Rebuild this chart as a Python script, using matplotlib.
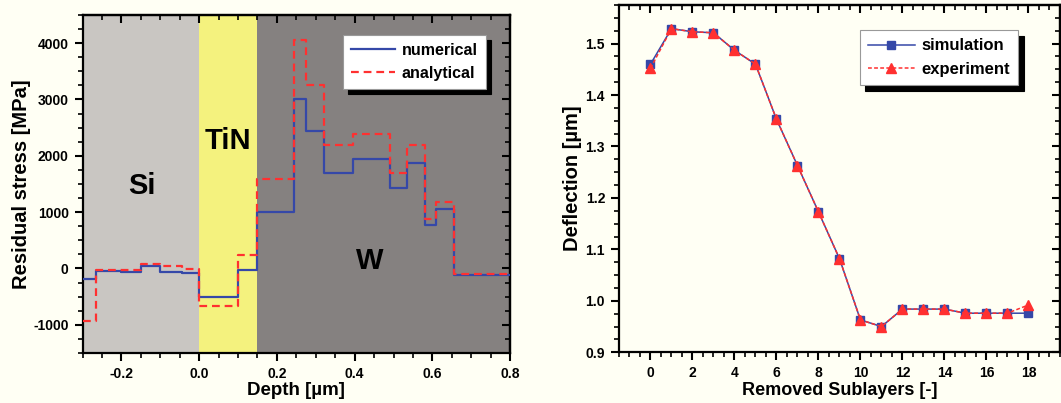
import matplotlib
matplotlib.use("Agg")
import matplotlib.pyplot as plt
from matplotlib.ticker import MultipleLocator, FormatStrFormatter

# left panel: residual stress step profiles
depth_edges = [-0.3, -0.265, -0.2, -0.15, -0.1, -0.045, 0.0, 0.1, 0.15, 0.245,
               0.275, 0.32, 0.395, 0.49, 0.535, 0.58, 0.61, 0.655, 0.8]
numerical = [-190, -46, -64, 36, -64, -80, -510, -30, 1000, 3000,
             2440, 1690, 1935, 1420, 1865, 780, 1060, -110]
analytical = [-930, -30, -30, 80, 40, -10, -660, 245, 1590, 4060,
              3250, 2200, 2390, 1700, 2190, 870, 1180, -90]
layer_names = ["Si", "TiN", "W"]
layer_bounds = [(-0.3, 0.0), (0.0, 0.15), (0.15, 0.8)]
layer_label_pos = [(-0.148, 1470), (0.074, 2270), (0.439, 140)]

# right panel: deflection vs removed sublayers
sublayers = list(range(19))
simulation = [1.460, 1.529, 1.523, 1.521, 1.487, 1.460, 1.353, 1.263, 1.173, 1.082,
              0.963, 0.950, 0.984, 0.984, 0.984, 0.976, 0.976, 0.976, 0.976]
experiment = [1.452, 1.529, 1.523, 1.521, 1.487, 1.460, 1.353, 1.263, 1.173, 1.082,
              0.963, 0.950, 0.984, 0.984, 0.984, 0.976, 0.976, 0.976, 0.992]

BG = "#fffff4"
BLUE = "#3548a8"
RED = "#ff3030"
layer_colors = ["#c9c6c2", "#f4f27e", "#858180"]

plt.rcParams["font.family"] = ["Liberation Sans", "DejaVu Sans"]
plt.rcParams["font.weight"] = "bold"
plt.rcParams["axes.labelweight"] = "bold"
plt.rcParams["axes.unicode_minus"] = False

fig = plt.figure(figsize=(10.61, 4.03), dpi=100, facecolor=BG)
ax1 = fig.add_axes([0.0778, 0.124, 0.403, 0.839])
ax2 = fig.add_axes([0.5834, 0.1258, 0.4156, 0.8618])

SHADOW = {"ox": 4, "oy": -4, "facecolor": "black", "edgecolor": "black", "alpha": 1}


def style_axes(ax, xmaj, xmin, ymaj, ymin):
    for sp in ax.spines.values():
        sp.set_linewidth(1.6)
    ax.xaxis.set_major_locator(MultipleLocator(xmaj))
    ax.xaxis.set_minor_locator(MultipleLocator(xmin))
    ax.yaxis.set_major_locator(MultipleLocator(ymaj))
    ax.yaxis.set_minor_locator(MultipleLocator(ymin))
    ax.tick_params(which="major", direction="out", length=6, width=1.5, labelsize=10, pad=4)
    ax.tick_params(which="minor", direction="out", length=3.5, width=1.2)
    # top and right ticks point inward
    top = ax.secondary_xaxis("top")
    top.xaxis.set_major_locator(MultipleLocator(xmaj))
    top.xaxis.set_minor_locator(MultipleLocator(xmin))
    right = ax.secondary_yaxis("right")
    right.yaxis.set_major_locator(MultipleLocator(ymaj))
    right.yaxis.set_minor_locator(MultipleLocator(ymin))
    for sec in (top, right):
        sec.tick_params(which="major", direction="in", length=6, width=1.5)
        sec.tick_params(which="minor", direction="in", length=3.5, width=1.2)
        sec.tick_params(labeltop=False, labelright=False)
        for sp in sec.spines.values():
            sp.set_linewidth(1.6)


# left panel
for (x0, x1), c in zip(layer_bounds, layer_colors):
    ax1.axvspan(x0, x1, color=c, lw=0, zorder=0)
ax1.step(depth_edges, numerical + [numerical[-1]], where="post", color=BLUE, lw=1.6,
         label="numerical", zorder=3)
ax1.step(depth_edges, analytical + [analytical[-1]], where="post", color=RED, lw=1.6,
         ls=(0, (3.5, 2.2)), label="analytical", zorder=4)
for name, (x, y) in zip(layer_names, layer_label_pos):
    ax1.text(x, y, name, fontsize=21, fontweight="bold", ha="center", va="center", zorder=5)
ax1.set_xlim(-0.3, 0.8)
ax1.set_ylim(-1500, 4500)
style_axes(ax1, 0.2, 0.05, 1000, 250)
ax1.xaxis.set_major_formatter(FormatStrFormatter("%.1f"))
ax1.set_xlabel("Depth [µm]", fontsize=13.5)
ax1.set_ylabel("Residual stress [MPa]", fontsize=14.5)
ax1.xaxis.set_label_coords(0.5, -0.085)
ax1.yaxis.set_label_coords(-0.12, 0.5)
leg1 = ax1.legend(loc="upper left", bbox_to_anchor=(0.608, 0.941), borderaxespad=0,
                  fancybox=False, edgecolor="#999999", facecolor="white", framealpha=1,
                  fontsize=11.5, handlelength=2.8, handletextpad=0.4, borderpad=0.5,
                  labelspacing=0.5, shadow=SHADOW)
leg1.get_frame().set_linewidth(0.8)

# right panel
ax2.set_facecolor(BG)
ax2.plot(sublayers, simulation, color=BLUE, lw=1.1, marker="s", ms=5.5, mfc=BLUE, mec=BLUE,
         label="simulation", zorder=3)
ax2.plot(sublayers, experiment, color=RED, lw=1.1, ls=(0, (2.5, 1.5)), marker="^", ms=7,
         mfc=RED, mec=RED, label="experiment", zorder=4)
ax2.set_xlim(-1.5, 19.5)
ax2.set_ylim(0.9, 1.575)
style_axes(ax2, 2, 0.5, 0.1, 0.025)
ax2.yaxis.set_major_formatter(FormatStrFormatter("%.1f"))
ax2.set_xlabel("Removed Sublayers [-]", fontsize=13)
ax2.set_ylabel("Deflection [µm]", fontsize=14.5)
ax2.xaxis.set_label_coords(0.5, -0.085)
ax2.yaxis.set_label_coords(-0.085, 0.5)
leg2 = ax2.legend(loc="upper left", bbox_to_anchor=(0.546, 0.928), borderaxespad=0,
                  fancybox=False, edgecolor="#999999", facecolor="white", framealpha=1,
                  fontsize=12, handlelength=2.8, handletextpad=0.4, borderpad=0.5,
                  labelspacing=0.5, shadow=SHADOW)
leg2.get_frame().set_linewidth(0.8)

fig.savefig("out.png", dpi=100, facecolor=BG)
